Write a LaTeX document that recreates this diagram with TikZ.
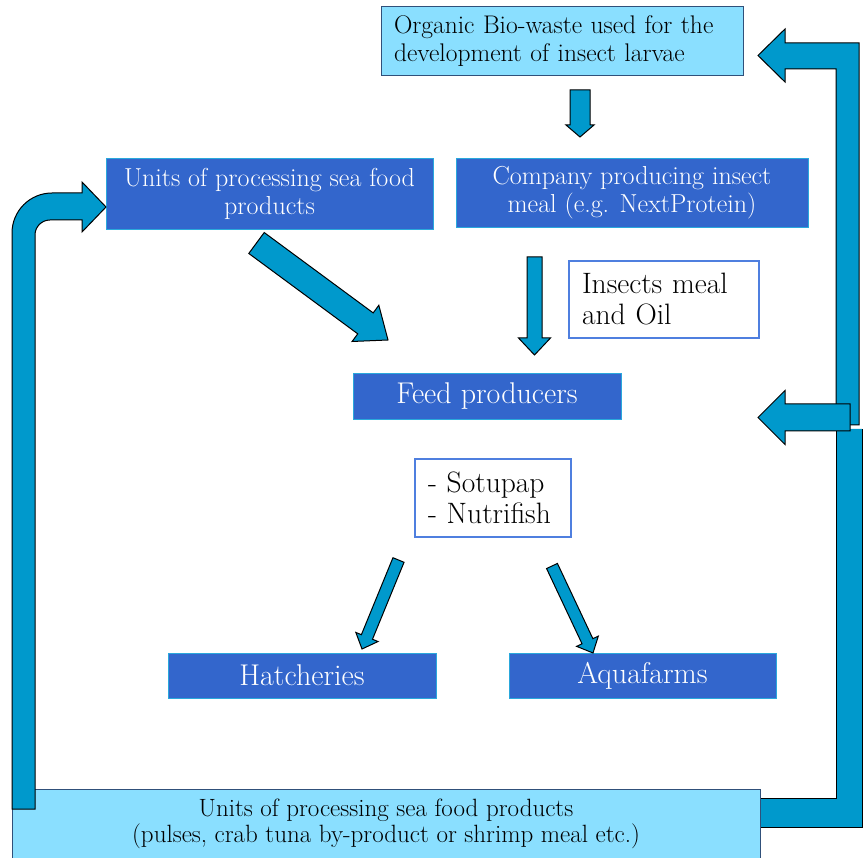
\documentclass[tikz,border=0pt]{standalone}
\usepackage{xcolor}
\usepackage{tikz}
\usetikzlibrary{calc}
\definecolor{boxblue}{HTML}{3366CC}
\definecolor{boxedge}{HTML}{2AA8DC}
\definecolor{paleblue}{HTML}{8ADFFF}
\definecolor{paleedge}{HTML}{30507A}
\definecolor{lineblue}{HTML}{4F7FDF}
\definecolor{arrowblue}{HTML}{0099CC}
\tikzset{
    tbox/.style = {align=center, inner sep=0pt, text centered},
    dark_box/.style = {tbox, rectangle, white, draw=boxedge, fill=boxblue, line width=0.8pt},
    pale_box/.style = {tbox, rectangle, black, draw=paleedge, fill=paleblue, line width=1pt},
    plain_box/.style = {rectangle, black, draw=lineblue, fill=white, line width=1.3pt, inner sep=0pt, align=left},
    block_arrow/.style = {draw=black, fill=arrowblue, line width=1pt},
    two_lines/.style = {font=\fontsize{26}{28}\selectfont},
    one_line/.style = {font=\fontsize{30}{31}\selectfont}
}
% fat arrow from #1 to #2: half shaft, half head, head length
\newcommand{\blockarrow}[5]{%
    \coordinate (#1-#2-h) at ($(#2)!#5!(#1)$);
    \draw[block_arrow] ($(#1)!#3!90:(#2)$) -- ($(#1-#2-h)!#3!90:(#2)$)
        -- ($(#1-#2-h)!#4!90:(#2)$) -- (#2) -- ($(#1-#2-h)!#4!-90:(#2)$)
        -- ($(#1-#2-h)!#3!-90:(#2)$) -- ($(#1)!#3!-90:(#2)$) -- cycle;
}

\begin{document}
\begin{tikzpicture}[x=1pt, y=-1pt]
    \useasboundingbox (0,0) rectangle (863,858);

    % loop back on the right
    \fill[arrowblue] (740,827) -- (862,827) -- (862,429) -- (836,429) -- (836,798) -- (740,798) -- cycle;
    \draw[line width=1pt] (740,827) -- (862,827) -- (862,429);
    \draw[line width=1pt] (836,429) -- (836,798) -- (740,798);
    \draw[block_arrow] (859,425) -- (859,43) -- (785,43) -- (785,29) -- (758,55.5)
        -- (785,82) -- (785,69) -- (836,69) -- (836,425) -- cycle;

    \node[pale_box, two_lines, font=\fontsize{25.5}{28}\selectfont, align=left, inner xsep=13pt, text width=336pt, minimum height=69pt]
        (biowaste) at (562,41.5) {Organic Bio-waste used for the\\development of insect larvae};
    \node[dark_box, two_lines, minimum width=327pt, minimum height=71pt]
        (seafood) at (269.5,193.5) {Units of processing sea food\\products};
    \node[dark_box, two_lines, minimum width=352pt, minimum height=69pt]
        (company) at (632,192.5) {Company producing insect\\meal (e.g. NextProtein)};
    \node[plain_box, one_line, font=\fontsize{29.5}{31}\selectfont, inner xsep=13pt, text width=164pt, minimum height=77pt]
        (meal) at (664,299.5) {Insects meal\\and Oil};
    \node[dark_box, one_line, minimum width=268pt, minimum height=46pt]
        (feed) at (487,396) {Feed producers};
    \node[plain_box, one_line, font=\fontsize{29.5}{31}\selectfont, inner xsep=13pt, text width=130pt, minimum height=78pt]
        (brands) at (493,498) {- Sotupap\\- Nutrifish};
    \node[dark_box, one_line, minimum width=268pt, minimum height=45pt]
        (hatch) at (302,675.5) {Hatcheries};
    \node[dark_box, one_line, minimum width=267pt, minimum height=45pt]
        (aqua) at (642.5,675.5) {Aquafarms};
    \node[pale_box, font=\fontsize{25}{26}\selectfont, minimum width=748pt, minimum height=69pt]
        (byprod) at (386,823.5) {Units of processing sea food products\\(pulses, crab tuna by-product or shrimp meal etc.)};

    % loop back on the left
    \draw[block_arrow] (12,809) -- (12,233) arc[start angle=180, end angle=90, radius=40pt]
        -- (82,193) -- (82,182) -- (106,207) -- (82,232) -- (82,220) -- (50,220)
        arc[start angle=90, end angle=180, radius=15pt] -- (35,809) -- cycle;

    \coordinate (bio_out) at (580,90);
    \coordinate (company_in) at (580,137);
    \coordinate (seafood_out) at (256.5,243);
    \coordinate (feed_in_left) at (388,340);
    \coordinate (company_out) at (534.5,257);
    \coordinate (feed_in_top) at (534.5,355);
    \coordinate (brands_out_left) at (398.5,560);
    \coordinate (hatch_in) at (362,649);
    \coordinate (brands_out_right) at (552,566);
    \coordinate (aqua_in) at (593,653);
    \coordinate (side_tail) at (850,417.5);
    \coordinate (side_tip) at (758,417.5);

    \blockarrow{bio_out}{company_in}{10pt}{14pt}{12pt}
    \blockarrow{seafood_out}{feed_in_left}{13pt}{22.5pt}{28pt}
    \blockarrow{company_out}{feed_in_top}{7.5pt}{16pt}{17pt}
    \blockarrow{brands_out_left}{hatch_in}{6pt}{12pt}{13pt}
    \blockarrow{brands_out_right}{aqua_in}{6pt}{12pt}{13pt}
    \blockarrow{side_tail}{side_tip}{13.5pt}{27pt}{27pt}
\end{tikzpicture}
\end{document}
